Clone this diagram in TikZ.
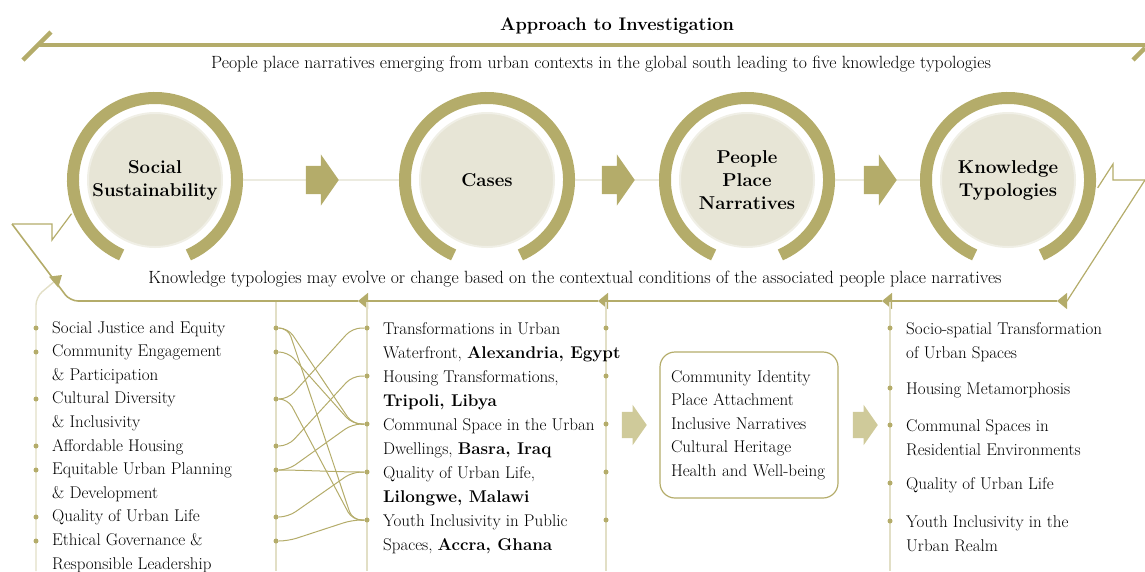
\documentclass[tikz,border=0pt]{standalone}
\usepackage{tikz}
\usetikzlibrary{shapes.arrows,arrows.meta}

\definecolor{ringolive}{RGB}{180,172,106}
\definecolor{diskfill}{RGB}{231,229,214}
\definecolor{diskedge}{RGB}{240,239,230}
\definecolor{paleolive}{RGB}{207,202,154}
\definecolor{railcol}{RGB}{226,223,198}
\definecolor{linkcol}{RGB}{236,235,224}

\begin{document}
\begin{tikzpicture}[
    x=1pt, y=-1pt,
    font=\fontsize{17}{23.6}\selectfont,
    hubdisk/.style={circle, fill=diskfill, draw=diskedge, line width=2pt, minimum size=134pt, inner sep=0pt, align=center, font=\fontsize{18.6}{23}\selectfont\bfseries},
    hubring/.style={draw=ringolive, line width=12pt},
    flowarrow/.style={single arrow, fill=ringolive, inner xsep=0pt, inner ysep=14pt, single arrow head extend=11.5pt, single arrow tip angle=110, minimum height=33pt, anchor=tip},
    steparrow/.style={flowarrow, fill=paleolive, inner ysep=13pt, single arrow head extend=7pt, minimum height=25pt},
    bulletdot/.style={circle, fill=ringolive, inner sep=0pt, minimum size=5pt},
    rail/.style={draw=railcol, line width=1.4pt},
    fbline/.style={draw=ringolive, line width=1.6pt},
    fbtip/.style={-{Triangle[length=10pt, width=16pt]}},
    crosslink/.style={draw=ringolive, line width=1pt, rounded corners=9pt},
    listtext/.style={anchor=base west, align=left, inner sep=0pt},
    notetext/.style={font=\fontsize{17.7}{21}\selectfont}
]
    \useasboundingbox (0,0) rectangle (1145,571);

    % En-tete
    \node[font=\fontsize{18.2}{22}\selectfont\bfseries] (title) at (617,26) {Approach to Investigation};
    \draw[ringolive, line width=4.5pt] (37,45) -- (1145,45);
    \draw[ringolive, line width=4.5pt] (23,60) -- (51,32);
    \draw[ringolive, line width=4.5pt] (1133,60) -- (1145,48);
    \node[notetext] (topnote) at (601,64) {People place narratives emerging from urban contexts in the global south leading to five knowledge typologies};

    % Cercles principaux
    \node[hubdisk] (ss) at (155,180) {Social\\Sustainability};
    \node[hubdisk] (cs) at (487,180) {Cases};
    \node[hubdisk] (ppn) at (747,180) {People\\Place\\Narratives};
    \node[hubdisk] (kt) at (1008,180) {Knowledge\\Typologies};

    \draw[hubring] (ss.center) ++(-66:82pt) arc[start angle=-66, end angle=246, radius=82pt];
    \draw[hubring] (cs.center) ++(-66:82pt) arc[start angle=-66, end angle=246, radius=82pt];
    \draw[hubring] (ppn.center) ++(-66:82pt) arc[start angle=-66, end angle=246, radius=82pt];
    \draw[hubring] (kt.center) ++(-66:82pt) arc[start angle=-66, end angle=246, radius=82pt];

    \draw[linkcol, line width=2pt] ([xshift=88pt]ss.center) -- ([xshift=-88pt]cs.center);
    \draw[linkcol, line width=2pt] ([xshift=88pt]cs.center) -- ([xshift=-88pt]ppn.center);
    \draw[linkcol, line width=2pt] ([xshift=88pt]ppn.center) -- ([xshift=-88pt]kt.center);

    \node[flowarrow] (a1) at (339,180) {};
    \node[flowarrow] (a2) at (635,180) {};
    \node[flowarrow] (a3) at (897,180) {};

    % Boucle de retour
    \coordinate (rnotch) at (1145,180);
    \coordinate (lnotch) at (12,224);
    \coordinate (k5) at (1057,301);
    \coordinate (k4) at (882,301);
    \coordinate (k3) at (598,301);
    \coordinate (k2) at (358,301);
    \draw[fbline, line width=1.2pt] ([shift={(-5:90pt)}]kt.center) -- (1113,164) -- (1113,180) -- (rnotch);
    \draw[fbline, line width=1.2pt, fbtip] (rnotch) -- (1067,301) -- (k5);
    \draw[fbline, fbtip] (k5) -- (k4);
    \draw[fbline, fbtip] (k4) -- (k3);
    \draw[fbline, fbtip] (k3) -- (k2);
    \draw[fbline, rounded corners=8pt] (k2) -- (70,301) -- (lnotch);
    \draw[fbline, line width=1.2pt] (lnotch) -- (52,224) -- (52,240) -- ([shift={(202:90pt)}]ss.center);
    \node[notetext] (backnote) at (575,279) {Knowledge typologies may evolve or change based on the contextual conditions of the associated people place narratives};

    % Rails verticaux
    \draw[rail, rounded corners=8pt, -{Triangle[length=11pt, width=14pt, color=ringolive]}] (36,571) -- (36,297) -- (62,275);
    \draw[rail] (276,302) -- (276,571);
    \draw[rail] (367,302) -- (367,571);
    \draw[rail] (606,302) -- (606,571);
    \draw[rail] (890,302) -- (890,571);

    % Colonne 1 : dimensions sociales (ancre sur la derniere ligne)
    \node[listtext] (dims) at (52,569) {Social Justice and Equity\\Community Engagement\\\& Participation\\Cultural Diversity\\\& Inclusivity\\Affordable Housing\\Equitable Urban Planning\\\& Development\\Quality of Urban Life\\Ethical Governance \&\\Responsible Leadership};
    \node[bulletdot] (lb1) at (36,328) {};  \node[bulletdot] (l1) at (276,328) {};
    \node[bulletdot] (lb2) at (36,352) {};  \node[bulletdot] (l2) at (276,352) {};
    \node[bulletdot] (lb3) at (36,399) {};  \node[bulletdot] (l3) at (276,399) {};
    \node[bulletdot] (lb4) at (36,446) {};  \node[bulletdot] (l4) at (276,446) {};
    \node[bulletdot] (lb5) at (36,470) {};  \node[bulletdot] (l5) at (276,470) {};
    \node[bulletdot] (lb6) at (36,517) {};  \node[bulletdot] (l6) at (276,517) {};
    \node[bulletdot] (lb7) at (36,541) {};  \node[bulletdot] (l7) at (276,541) {};

    % Colonne 2 : cas
    \node[listtext, font=\fontsize{17}{24}\selectfont] (cases) at (383,550) {Transformations in Urban\\Waterfront, \textbf{Alexandria, Egypt}\\Housing Transformations,\\\textbf{Tripoli, Libya}\\Communal Space in the Urban\\Dwellings, \textbf{Basra, Iraq}\\Quality of Urban Life,\\\textbf{Lilongwe, Malawi}\\Youth Inclusivity in Public\\Spaces, \textbf{Accra, Ghana}};
    \node[bulletdot] (r1) at (367,328) {};  \node[bulletdot] (rb1) at (606,328) {};
    \node[bulletdot] (r2) at (367,376) {};  \node[bulletdot] (rb2) at (606,376) {};
    \node[bulletdot] (r3) at (367,424) {};  \node[bulletdot] (rb3) at (606,424) {};
    \node[bulletdot] (r4) at (367,472) {};  \node[bulletdot] (rb4) at (606,472) {};
    \node[bulletdot] (r5) at (367,520) {};  \node[bulletdot] (rb5) at (606,520) {};

    % Liens croises
    \draw[crosslink] (l1) -- ++(12,0) -- ([xshift=-12pt]r3.west) -- (r3);
    \draw[crosslink] (l1) -- ++(12,0) -- ([xshift=-12pt]r5.west) -- (r5);
    \draw[crosslink] (l2) -- ++(12,0) -- ([xshift=-12pt]r3.west) -- (r3);
    \draw[crosslink] (l3) -- ++(12,0) -- ([xshift=-12pt]r1.west) -- (r1);
    \draw[crosslink] (l3) -- ++(12,0) -- ([xshift=-12pt]r5.west) -- (r5);
    \draw[crosslink] (l4) -- ++(12,0) -- ([xshift=-12pt]r2.west) -- (r2);
    \draw[crosslink] (l5) -- ++(12,0) -- ([xshift=-12pt]r3.west) -- (r3);
    \draw[crosslink] (l5) -- ++(12,0) -- ([xshift=-12pt]r4.west) -- (r4);
    \draw[crosslink] (l6) -- ++(12,0) -- ([xshift=-12pt]r4.west) -- (r4);
    \draw[crosslink] (l7) -- ++(12,0) -- ([xshift=-12pt]r5.west) -- (r5);

    % Colonne 3 : narratifs
    \node[steparrow] (s1) at (647,425) {};
    \node[draw=ringolive, line width=1.2pt, rounded corners=15pt, text width=156pt, inner xsep=11pt, minimum height=146pt, align=left] (ppnbox) at (749,425) {Community Identity\\Place Attachment\\Inclusive Narratives\\Cultural Heritage\\Health and Well-being};
    \node[steparrow] (s2) at (878,425) {};

    % Colonne 4 : typologies
    \node[listtext, font=\fontsize{17}{24}\selectfont] (t1) at (906,358) {Socio-spatial Transformation\\of Urban Spaces};
    \node[listtext] (t2) at (906,394) {Housing Metamorphosis};
    \node[listtext, font=\fontsize{17}{24}\selectfont] (t3) at (906,455) {Communal Spaces in\\Residential Environments};
    \node[listtext] (t4) at (906,489) {Quality of Urban Life};
    \node[listtext, font=\fontsize{17}{24}\selectfont] (t5) at (906,551) {Youth Inclusivity in the\\Urban Realm};
    \node[bulletdot] (tb1) at (890,328) {};
    \node[bulletdot] (tb2) at (890,388) {};
    \node[bulletdot] (tb3) at (890,425) {};
    \node[bulletdot] (tb4) at (890,483) {};
    \node[bulletdot] (tb5) at (890,521) {};

\end{tikzpicture}
\end{document}
